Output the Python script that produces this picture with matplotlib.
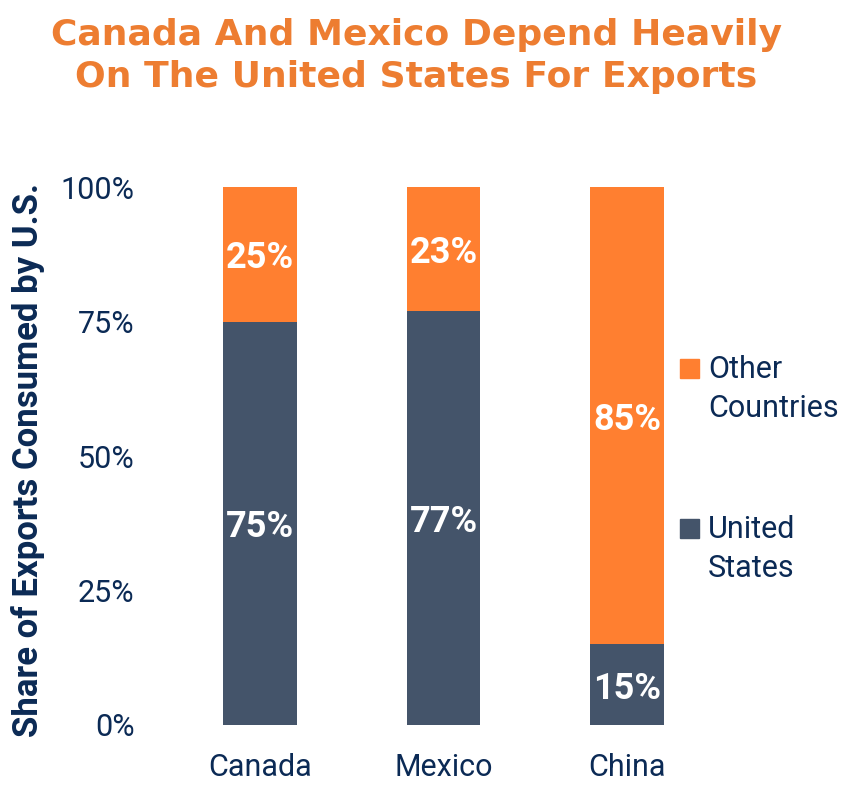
import matplotlib
matplotlib.use("Agg")
import matplotlib.pyplot as plt
from matplotlib.patches import Rectangle
from matplotlib.ticker import FuncFormatter

countries = ["Canada", "Mexico", "China"]
us_share = [75, 77, 15]
other_share = [25, 23, 85]
yticks = [0, 25, 50, 75, 100]
series_names = ["United States", "Other Countries"]
legend_labels = ["Other\nCountries", "United\nStates"]
title = "Canada And Mexico Depend Heavily\nOn The United States For Exports"
ylabel = "Share of Exports Consumed by U.S."

C_US = "#44546A"
C_OTHER = "#FF7F30"
C_TITLE = "#ED7D31"
C_TEXT = "#0B2A55"

plt.rcParams["font.family"] = ["Roboto", "DejaVu Sans"]

fig = plt.figure(figsize=(8.46, 8.02), dpi=100)
W, H = 846, 802
left_px, right_px, top_px, bot_px = 150, 670, 187, 725
ax = fig.add_axes([left_px / W, 1 - bot_px / H, (right_px - left_px) / W, (bot_px - top_px) / H])

x = list(range(len(countries)))
ax.bar(x, us_share, width=0.4, color=C_US, label=series_names[0])
ax.bar(x, other_share, width=0.4, bottom=us_share, color=C_OTHER, label=series_names[1])

for xi, u, o in zip(x, us_share, other_share):
    ax.text(xi, u / 2, f"{u}%", ha="center", va="center_baseline", color="white",
            fontsize=26, fontweight="bold")
    ax.text(xi, u + o / 2, f"{o}%", ha="center", va="center_baseline", color="white",
            fontsize=26, fontweight="bold")

ax.set_xlim(-0.6, 2.234)
ax.set_ylim(0, 100)
ax.set_yticks(yticks)
ax.yaxis.set_major_formatter(FuncFormatter(lambda v, p: f"{int(v)}%"))
ax.set_xticks(x)
ax.set_xticklabels(countries)
ax.tick_params(axis="both", length=0, labelsize=22, colors=C_TEXT)
ax.tick_params(axis="y", pad=11)
ax.tick_params(axis="x", pad=20)
for s in ax.spines.values():
    s.set_visible(False)

fig.text(28 / W, 1 - 460 / H, ylabel, rotation=90, ha="center", va="center",
         fontsize=25, fontweight="bold", color=C_TEXT)

fig.text(416 / W, 1 - 56 / H, title, ha="center", va="center", fontsize=26,
         fontweight="bold", color=C_TITLE, family=["DejaVu Sans"],
         linespacing=1.27)

# legend drawn manually: square aligned with first line of each label
legend_colors = [C_OTHER, C_US]
legend_baselines = [378, 538]
for lab, col, base in zip(legend_labels, legend_colors, legend_baselines):
    fig.patches.append(Rectangle((680 / W, 1 - base / H), 19 / W, 19 / H,
                                 transform=fig.transFigure, color=col))
    fig.text(708 / W, 1 - (base - 23) / H, lab, ha="left", va="top",
             fontsize=22, color=C_TEXT, linespacing=1.45)

fig.savefig("out.png", dpi=100)
